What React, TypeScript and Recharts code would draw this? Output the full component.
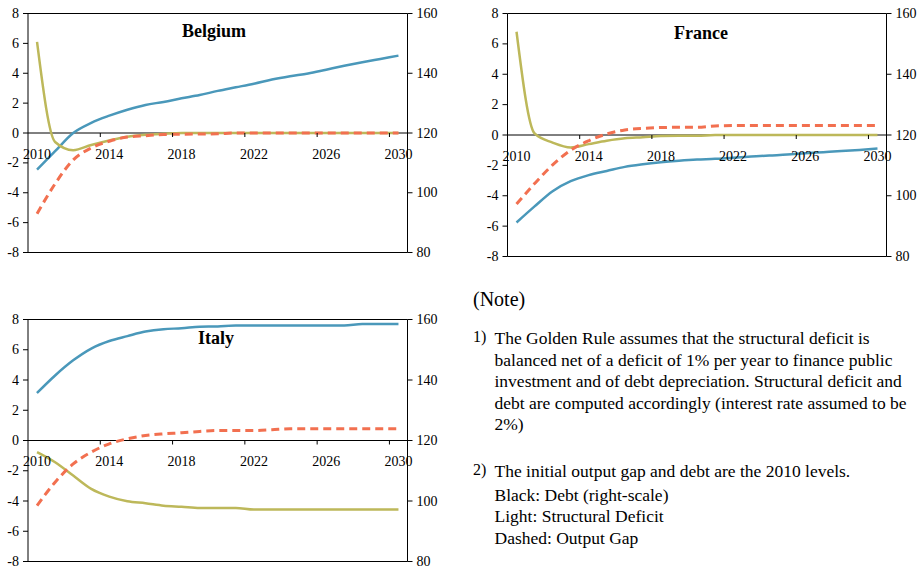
import React from 'react';
import { LineChart, Line, XAxis, YAxis, ReferenceLine } from 'recharts';

const years = ['2010','2011','2012','2013','2014','2015','2016','2017','2018','2019','2020','2021','2022','2023','2024','2025','2026','2027','2028','2029','2030'];

const belgiumDebt = [107.7,113.9,120,123.4,125.8,127.8,129.4,130.4,131.6,132.7,134.1,135.3,136.5,137.9,139.0,139.9,141.2,142.5,143.7,144.8,145.9];
const belgiumDeficit = [6.1,-0.6,-1.15,-0.8,-0.5,-0.25,-0.12,-0.05,0,0,0,0,0,0,0,0,0,0,0,0,0];
const belgiumGap = [-5.4,-3.4,-1.8,-1.0,-0.55,-0.27,-0.18,-0.1,-0.08,-0.07,-0.05,0,0,0,0,0,0,0,0,0,0];

const franceDebt = [91.2,96.5,101.5,104.8,106.8,108.15,109.5,110.35,111.0,111.5,111.9,112.15,112.55,112.9,113.25,113.55,114.0,114.35,114.7,115.1,115.55];
const franceDeficit = [6.8,0.1,-0.5,-0.82,-0.6,-0.38,-0.22,-0.15,-0.07,-0.05,-0.05,0,0,0,0,0,0,0,0,0,0];
const franceGap = [-4.55,-3.2,-1.97,-1.0,-0.38,0.07,0.33,0.44,0.49,0.51,0.51,0.6,0.62,0.62,0.62,0.62,0.62,0.62,0.62,0.62,0.62];

const italyDebt = [135.7,141.5,146.5,150.4,152.9,154.5,156.0,156.8,157.1,157.6,157.7,158,158,158,158,158,158,158,158.5,158.5,158.5];
const italyDeficit = [-0.77,-1.44,-2.32,-3.2,-3.71,-4.02,-4.15,-4.31,-4.38,-4.46,-4.46,-4.46,-4.57,-4.57,-4.57,-4.57,-4.57,-4.57,-4.57,-4.57,-4.57];
const italyGap = [-4.31,-2.76,-1.55,-0.77,-0.22,0.11,0.33,0.44,0.51,0.6,0.66,0.66,0.66,0.71,0.77,0.77,0.77,0.77,0.77,0.77,0.77];

const leftTicks = [-8,-6,-4,-2,0,2,4,6,8];
const rightTicks = [80,100,120,140,160];

const BLUE = '#4a98ba';
const OLIVE = '#bdb85a';
const RED = '#f27050';
const FONT = '"Liberation Serif", "Times New Roman", serif';
const TICK_FS = 14;

const build = (debt: number[], deficit: number[], gap: number[]) =>
  years.map((y, i) => ({ year: y, debt: debt[i], deficit: deficit[i], gap: gap[i] }));

type PanelProps = {
  data: any[];
  left: number; top: number; width: number; height: number;
  margin: { top: number; right: number; bottom: number; left: number };
  leftW: number; rightW: number;
};

const yTick = (props: any) => {
  const { x, y, payload, textAnchor } = props;
  return (
    <text x={x} y={y} dy="0.33em" textAnchor={textAnchor} fontFamily={FONT} fontSize={TICK_FS} fill="#000">
      {payload.value}
    </text>
  );
};

function Panel({ data, left, top, width, height, margin, leftW, rightW }: PanelProps) {
  const xAxisH = 1;
  const plotH = height - margin.top - margin.bottom - xAxisH;
  const plotX = margin.left + leftW;
  const plotW = width - margin.left - margin.right - leftW - rightW;
  const bw = plotW / years.length;
  const tick = (props: any) => {
    const { x, y, payload } = props;
    const zy = y - plotH / 2;
    return (
      <g>
        <text x={x} y={zy + 25.5} textAnchor="middle" fontFamily={FONT} fontSize={TICK_FS} fill="#000">{payload.value}</text>
        {payload.value !== '2010' && (
          <line x1={x - bw / 2} x2={x - bw / 2} y1={zy} y2={zy + 4} stroke="#000" strokeWidth={1} />
        )}
      </g>
    );
  };
  return (
    <div style={{ position: 'absolute', left, top, width, height }}>
      <LineChart width={width} height={height} data={data} margin={margin} style={{ overflow: 'visible' }}>
        <XAxis dataKey="year" xAxisId="x" height={xAxisH} interval={3} tickSize={0} tickMargin={0}
          padding={{ left: bw / 2, right: bw / 2 }}
          tick={tick} axisLine={false} tickLine={false} />
        <YAxis yAxisId="left" orientation="left" width={leftW} domain={[-8, 8]} ticks={leftTicks} interval={0}
          type="number" allowDataOverflow tick={yTick} tickSize={5} tickMargin={4}
          axisLine={{ stroke: '#000' }} tickLine={{ stroke: '#000' }} />
        <YAxis yAxisId="right" orientation="right" width={rightW} domain={[80, 160]} ticks={rightTicks} interval={0}
          type="number" allowDataOverflow tick={yTick} tickSize={5} tickMargin={4}
          axisLine={{ stroke: '#000' }} tickLine={{ stroke: '#000' }} />
        <ReferenceLine yAxisId="left" xAxisId="x" y={0} stroke="#000" strokeWidth={1} />
        <Line xAxisId="x" yAxisId="right" dataKey="debt" type="monotone" stroke={BLUE} strokeWidth={2.5} dot={false} isAnimationActive={false} />
        <Line xAxisId="x" yAxisId="left" dataKey="deficit" type="monotone" stroke={OLIVE} strokeWidth={2.5} dot={false} isAnimationActive={false} />
        <Line xAxisId="x" yAxisId="left" dataKey="gap" type="monotone" stroke={RED} strokeWidth={3} strokeDasharray="8 5" dot={false} isAnimationActive={false} />
      </LineChart>
      <svg width={width} height={height} style={{ position: 'absolute', left: 0, top: 0, pointerEvents: 'none' }}>
        <line x1={plotX} x2={plotX + plotW} y1={margin.top} y2={margin.top} stroke="#000" strokeWidth={1} />
        <line x1={plotX} x2={plotX + plotW} y1={margin.top + plotH} y2={margin.top + plotH} stroke="#000" strokeWidth={1} />
      </svg>
    </div>
  );
}

const noteLines = [
  { t: 'The Golden Rule assumes that the structural deficit is', y: 343.5 },
  { t: 'balanced net of a deficit of 1% per year to finance public', y: 365.5 },
  { t: 'investment and of debt depreciation. Structural deficit and', y: 387 },
  { t: 'debt are computed accordingly (interest rate assumed to be', y: 408.5 },
  { t: '2%)', y: 430 },
  { t: 'The initial output gap and debt are the 2010 levels.', y: 476.5 },
  { t: 'Black: Debt (right-scale)', y: 500.5 },
  { t: 'Light: Structural Deficit', y: 522 },
  { t: 'Dashed: Output Gap', y: 544 },
];

export default function App() {
  return (
    <div style={{ position: 'absolute', left: 0, top: 0, width: 918, height: 568, background: '#fff' }}>
      <Panel data={build(belgiumDebt, belgiumDeficit, belgiumGap)} left={0} top={0} width={460} height={270}
        margin={{ top: 13.5, right: 12.5, bottom: 16.5, left: 0 }} leftW={28} rightW={40} />
      <Panel data={build(franceDebt, franceDeficit, franceGap)} left={460} top={0} width={458} height={270}
        margin={{ top: 13.5, right: 1.5, bottom: 12.5, left: 7.5 }} leftW={40} rightW={30} />
      <Panel data={build(italyDebt, italyDeficit, italyGap)} left={0} top={300} width={460} height={268}
        margin={{ top: 19.5, right: 12.5, bottom: 5.5, left: 0 }} leftW={28} rightW={40} />
      <svg width={918} height={568} style={{ position: 'absolute', left: 0, top: 0, pointerEvents: 'none' }}>
        <text x={214} y={37.3} textAnchor="middle" fontFamily={FONT} fontWeight="bold" fontSize={18} fill="#000">Belgium</text>
        <text x={701} y={39} textAnchor="middle" fontFamily={FONT} fontWeight="bold" fontSize={18} fill="#000">France</text>
        <text x={216} y={344} textAnchor="middle" fontFamily={FONT} fontWeight="bold" fontSize={18} fill="#000">Italy</text>
        <text x={473} y={306} fontFamily={FONT} fontSize={20} fill="#000">(Note)</text>
        <text x={473} y={342} fontFamily={FONT} fontSize={16} fill="#000">1)</text>
        <text x={473} y={475} fontFamily={FONT} fontSize={16} fill="#000">2)</text>
        {noteLines.map((l, i) => (
          <text key={i} x={494.5} y={l.y} fontFamily={FONT} fontSize={17.5} fill="#000">{l.t}</text>
        ))}
      </svg>
    </div>
  );
}
